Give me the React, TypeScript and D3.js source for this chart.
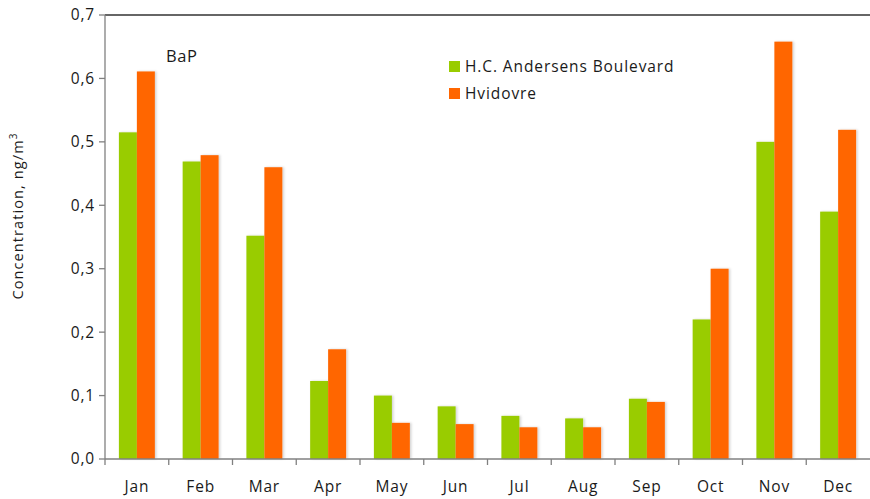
import React from "react";
import * as d3 from "d3";

const months = ["Jan", "Feb", "Mar", "Apr", "May", "Jun", "Jul", "Aug", "Sep", "Oct", "Nov", "Dec"];
const hcAndersens = [0.515, 0.469, 0.352, 0.123, 0.1, 0.083, 0.068, 0.064, 0.095, 0.22, 0.5, 0.39];
const hvidovre = [0.611, 0.479, 0.46, 0.173, 0.057, 0.055, 0.05, 0.05, 0.09, 0.3, 0.658, 0.519];
const seriesNames = ["H.C. Andersens Boulevard", "Hvidovre"];
const seriesColors = ["#99CC00", "#FF6600"];
const yTicks = [0, 0.1, 0.2, 0.3, 0.4, 0.5, 0.6, 0.7];

const W = 870, H = 499;
const left = 105, right = 870, top = 15, bottom = 459;
const font = "'Open Sans', 'Noto Sans', sans-serif";

export default function App() {
  const x = d3.scaleBand<string>().domain(months).range([left, right]).paddingInner(0).paddingOuter(0);
  const y = d3.scaleLinear().domain([0, 0.7]).range([bottom, top]);
  const bw = x.bandwidth();
  const barW = bw * 0.282;
  const series = [hcAndersens, hvidovre];
  const fmt = (v: number) => v.toFixed(1).replace(".", ",");

  return (
    <svg width={W} height={H} style={{ position: "absolute", left: 0, top: 0, background: "#fff" }}>
      <defs>
        <filter id="sh" x="-20%" y="-5%" width="150%" height="110%">
          <feDropShadow dx="1.5" dy="0" stdDeviation="1" floodColor="#000" floodOpacity="0.18" />
        </filter>
      </defs>
      {/* bars */}
      {months.map((m, i) => {
        const cx = (x(m) as number) + bw / 2;
        return series.map((s, k) => (
          <rect
            key={m + k}
            x={cx - barW + k * barW}
            y={y(s[i])}
            width={barW}
            height={bottom - y(s[i])}
            fill={seriesColors[k]}
            filter="url(#sh)"
          />
        ));
      })}
      {/* top border */}
      <line x1={left} x2={right} y1={top} y2={top} stroke="#333" strokeWidth={1.3} />
      {/* y axis */}
      <line x1={left} x2={left} y1={top} y2={bottom} stroke="#808080" strokeWidth={1.3} />
      {yTicks.map((t) => (
        <g key={t}>
          <line x1={left - 6} x2={left} y1={y(t)} y2={y(t)} stroke="#808080" strokeWidth={1.3} />
          <text x={left - 10} y={y(t)} dy="0.35em" textAnchor="end" fontFamily={font} fontSize={15.5} letterSpacing={0.8} fill="#1a1a1a">
            {fmt(t)}
          </text>
        </g>
      ))}
      {/* x axis */}
      <line x1={left} x2={right} y1={bottom} y2={bottom} stroke="#808080" strokeWidth={1.3} />
      {months.map((m) => (
        <g key={m}>
          <line x1={(x(m) as number)} x2={(x(m) as number)} y1={bottom} y2={bottom + 6} stroke="#808080" strokeWidth={1.3} />
          <text x={(x(m) as number) + bw / 2} y={bottom + 33} textAnchor="middle" fontFamily={font} fontSize={15.5} letterSpacing={0.8} fill="#1a1a1a">
            {m}
          </text>
        </g>
      ))}
      {/* y title */}
      <text
        transform={`translate(23, 216) rotate(-90)`}
        textAnchor="middle"
        fontFamily={font}
        fontSize={14.5}
        letterSpacing={1.1}
        fill="#1a1a1a"
      >
        Concentration, ng/m<tspan dy="-6" fontSize={10}>3</tspan>
      </text>
      {/* BaP label */}
      <text x={166} y={62} fontFamily={font} fontSize={16.5} letterSpacing={0.6} fill="#1a1a1a">BaP</text>
      {/* legend */}
      {seriesNames.map((n, k) => (
        <g key={n}>
          <rect x={449} y={61 + k * 27} width={11} height={11} fill={seriesColors[k]} />
          <text x={465} y={72 + k * 27} fontFamily={font} fontSize={15.5} letterSpacing={0.9} fill="#1a1a1a">{n}</text>
        </g>
      ))}
    </svg>
  );
}
